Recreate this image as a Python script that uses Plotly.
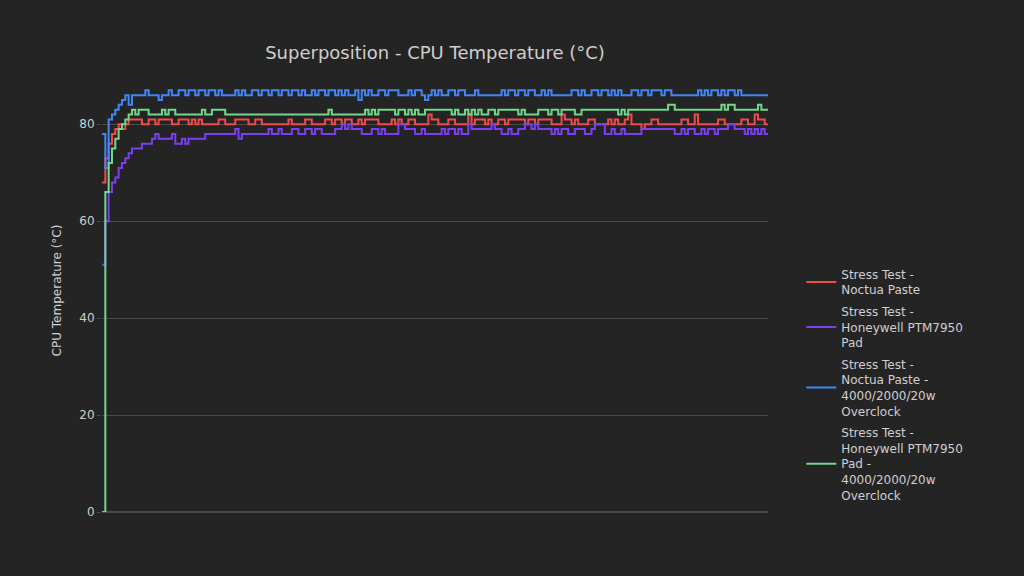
import plotly.graph_objects as go

names = [
    "Stress Test -<br>Noctua Paste",
    "Stress Test -<br>Honeywell PTM7950<br>Pad",
    "Stress Test -<br>Noctua Paste -<br>4000/2000/20w<br>Overclock",
    "Stress Test -<br>Honeywell PTM7950<br>Pad -<br>4000/2000/20w<br>Overclock",
]
colors = ["#f04b4b", "#7b3ff2", "#4385f6", "#72d68b"]

noctua = [
    68, 73, 76, 78, 79, 80, 79, 80, 81, 81,
    81, 81, 80, 80, 81, 81, 80, 81, 81, 81,
    81, 80, 80, 81, 81, 81, 80, 81, 80, 81,
    80, 80, 80, 80, 80, 81, 81, 80, 80, 80,
    81, 81, 81, 81, 80, 80, 81, 81, 80, 80,
    80, 80, 80, 80, 80, 80, 81, 80, 80, 80,
    80, 81, 81, 80, 80, 80, 80, 81, 81, 80,
    81, 81, 80, 81, 81, 80, 80, 81, 80, 81,
    81, 81, 81, 80, 80, 80, 80, 81, 80, 81,
    80, 80, 81, 81, 80, 80, 80, 80, 82, 81,
    81, 80, 80, 80, 81, 81, 80, 80, 80, 80,
    82, 80, 81, 81, 81, 80, 81, 80, 80, 81,
    81, 80, 81, 81, 81, 81, 81, 80, 81, 81,
    80, 81, 81, 81, 81, 80, 80, 80, 82, 81,
    81, 80, 81, 80, 80, 80, 81, 81, 80, 80,
    80, 80, 81, 80, 81, 80, 80, 81, 82, 80,
    80, 80, 79, 80, 80, 81, 81, 80, 80, 80,
    80, 80, 80, 80, 81, 81, 80, 80, 82, 80,
    80, 80, 80, 80, 80, 81, 81, 80, 80, 80,
    80, 80, 81, 81, 80, 80, 82, 81, 81, 80,
    80,
]

honeywell = [
    51, 60, 66, 68, 69, 71, 72, 73, 74, 75,
    75, 75, 76, 76, 76, 77, 78, 77, 77, 77,
    77, 78, 76, 76, 77, 76, 77, 77, 77, 77,
    77, 78, 78, 78, 78, 78, 78, 78, 78, 78,
    79, 77, 78, 78, 78, 78, 78, 78, 78, 78,
    79, 78, 78, 79, 78, 78, 78, 79, 79, 78,
    78, 79, 79, 78, 79, 79, 78, 78, 78, 78,
    79, 79, 80, 79, 80, 79, 79, 79, 78, 78,
    78, 79, 79, 78, 79, 78, 78, 78, 78, 80,
    80, 79, 79, 79, 78, 78, 79, 78, 78, 78,
    78, 78, 79, 78, 79, 79, 78, 79, 78, 78,
    80, 79, 79, 79, 79, 79, 79, 80, 79, 79,
    78, 78, 79, 78, 78, 79, 79, 80, 80, 79,
    80, 79, 79, 79, 79, 78, 79, 78, 79, 79,
    78, 78, 79, 79, 79, 78, 78, 79, 80, 80,
    80, 78, 78, 79, 78, 78, 79, 78, 78, 78,
    78, 78, 79, 79, 79, 79, 79, 79, 79, 79,
    79, 79, 78, 78, 79, 78, 79, 79, 78, 78,
    79, 78, 79, 79, 78, 79, 79, 79, 80, 80,
    79, 79, 79, 78, 79, 78, 79, 78, 79, 78,
    78,
]

noctua_oc = [
    78, 71, 81, 82, 83, 84, 85, 86, 84, 86,
    86, 86, 86, 87, 86, 86, 86, 85, 86, 86,
    87, 86, 86, 87, 87, 86, 87, 87, 86, 87,
    87, 86, 87, 87, 86, 87, 86, 86, 86, 86,
    87, 86, 87, 86, 86, 87, 87, 86, 87, 87,
    86, 87, 87, 86, 87, 87, 86, 87, 87, 86,
    87, 86, 86, 87, 86, 87, 87, 86, 87, 87,
    86, 87, 86, 87, 86, 86, 87, 85, 87, 86,
    87, 86, 86, 87, 87, 86, 87, 87, 87, 86,
    86, 86, 87, 86, 87, 87, 86, 85, 86, 87,
    86, 87, 86, 86, 87, 87, 86, 87, 87, 86,
    86, 86, 87, 86, 86, 86, 86, 86, 86, 86,
    87, 86, 87, 87, 86, 87, 87, 86, 87, 87,
    86, 86, 87, 86, 87, 86, 86, 86, 86, 86,
    86, 87, 87, 86, 87, 86, 86, 87, 87, 86,
    87, 87, 86, 87, 86, 87, 86, 86, 86, 87,
    87, 86, 87, 87, 86, 87, 87, 87, 86, 87,
    87, 86, 86, 86, 86, 86, 86, 86, 86, 87,
    86, 87, 86, 87, 87, 86, 87, 86, 87, 87,
    86, 87, 86, 86, 86, 86, 86, 86, 86, 86,
    86,
]

honeywell_oc = [
    0, 66, 72, 75, 77, 79, 80, 81, 82, 83,
    82, 83, 83, 83, 82, 82, 82, 82, 83, 82,
    83, 83, 82, 82, 82, 82, 82, 82, 82, 82,
    83, 82, 82, 83, 83, 83, 83, 82, 82, 82,
    82, 82, 82, 82, 82, 82, 82, 82, 82, 82,
    82, 82, 82, 82, 82, 82, 82, 82, 82, 82,
    82, 82, 82, 82, 82, 82, 82, 82, 83, 82,
    82, 82, 82, 82, 82, 82, 82, 82, 82, 83,
    82, 83, 82, 83, 83, 83, 83, 83, 82, 83,
    83, 82, 83, 82, 83, 82, 82, 83, 83, 83,
    83, 83, 83, 83, 83, 82, 83, 82, 82, 83,
    82, 83, 82, 83, 82, 82, 83, 83, 82, 83,
    83, 83, 83, 83, 83, 82, 83, 82, 82, 82,
    82, 83, 83, 83, 82, 83, 83, 82, 83, 83,
    83, 83, 82, 82, 83, 83, 83, 83, 83, 83,
    83, 83, 83, 83, 83, 82, 83, 82, 83, 83,
    83, 83, 83, 83, 83, 83, 83, 83, 83, 83,
    84, 84, 83, 83, 83, 83, 83, 83, 83, 83,
    83, 83, 83, 83, 83, 83, 84, 83, 84, 84,
    83, 83, 83, 83, 83, 83, 83, 84, 83, 83,
    83,
]

series = [noctua, honeywell, noctua_oc, honeywell_oc]

FONT = "DejaVu Sans"
TXT = "#cfcfcf"
GRID = "#4a4a4a"

fig = go.Figure()
for i, (name, color, ys) in enumerate(zip(names, colors, series)):
    fig.add_trace(go.Scatter(
        x=list(range(len(ys))), y=ys, name=name, mode="lines",
        legendgroup=str(i),
        line=dict(color=color, width=2, shape="hv"),
    ))

fig.update_layout(
    width=1024, height=576,
    paper_bgcolor="#242424", plot_bgcolor="#242424",
    font=dict(family=FONT, color=TXT, size=12),
    title=dict(text="Superposition - CPU Temperature (°C)", x=0.5, xref="paper",
               y=1 - 53 / 576, yref="container", yanchor="middle",
               font=dict(size=18, color=TXT)),
    margin=dict(l=102, r=256, t=69, b=64),
    xaxis=dict(showticklabels=False, showgrid=False, zeroline=False,
               range=[0, len(noctua) - 1]),
    yaxis=dict(title=dict(text="CPU Temperature (°C)", font=dict(size=12)),
               range=[0, 91.4], tickvals=[0, 20, 40, 60, 80],
               ticks="outside", ticklen=4, tickcolor=GRID,
               gridcolor=GRID, zeroline=True, zerolinecolor=GRID,
               tickfont=dict(size=12)),
    legend=dict(x=1.05, xanchor="left", y=0.005, yanchor="bottom",
                tracegroupgap=3,
                font=dict(size=12, color=TXT), bgcolor="rgba(0,0,0,0)"),
    showlegend=True,
)

fig.write_html("out.html", config={"displayModeBar": False},
               post_script="document.body.style.margin='0';")
